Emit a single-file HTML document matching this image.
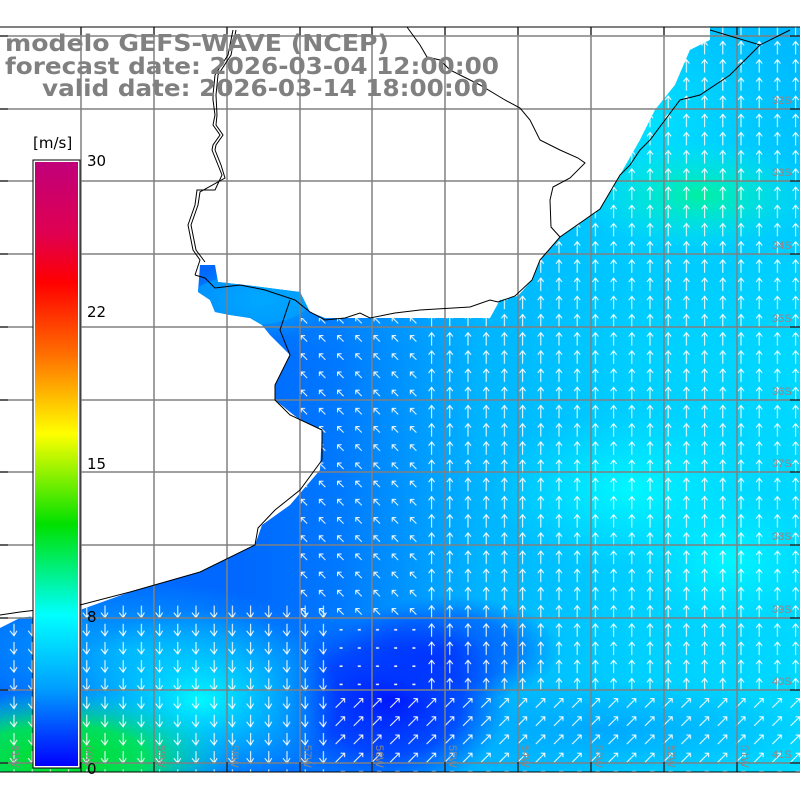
<!DOCTYPE html>
<html><head><meta charset="utf-8"><style>
html,body{margin:0;padding:0;background:#fff;}
svg{display:block;}
</style></head><body>
<svg width="800" height="800" xmlns="http://www.w3.org/2000/svg" font-family="Liberation Sans, DejaVu Sans, sans-serif">
<defs>
<clipPath id="oc"><polygon points="710,27 800,27 800,772 0,772 0,628 20,618 80,610 130,592 200,572 255,545 262,525 290,505 320,470 322,430 300,420 275,400 275,385 290,355 270,335 262,325 250,318 230,315 215,312 210,300 198,292 200,265 215,265 218,282 245,285 300,292 310,312 325,318 490,318 500,300 518,296 532,280 540,260 560,237 600,209 620,175 640,140 655,110 675,85 690,50 710,40"/></clipPath>
<linearGradient id="base" x1="0" y1="0" x2="1" y2="0"><stop offset="0.3" stop-color="#0068ff"/><stop offset="0.42" stop-color="#0078ff"/><stop offset="0.6" stop-color="#00b4ff"/><stop offset="0.8" stop-color="#00d0ff"/><stop offset="1" stop-color="#00d8ff"/></linearGradient>
<linearGradient id="topf" x1="0" y1="0" x2="0" y2="1"><stop offset="0" stop-color="#00b8ff"/><stop offset="1" stop-color="#00b8ff" stop-opacity="0"/></linearGradient>
<radialGradient id="deep" cx="0.5" cy="0.5" r="0.5"><stop offset="0" stop-color="#0018ff"/><stop offset="0.6" stop-color="#0038ff" stop-opacity="0.8"/><stop offset="1" stop-color="#0050ff" stop-opacity="0"/></radialGradient>
<radialGradient id="cy" cx="0.5" cy="0.5" r="0.5"><stop offset="0" stop-color="#00f8ff"/><stop offset="1" stop-color="#00e8ff" stop-opacity="0"/></radialGradient>
<radialGradient id="gr" cx="0.5" cy="0.5" r="0.5"><stop offset="0" stop-color="#00f0a0"/><stop offset="1" stop-color="#00f0e0" stop-opacity="0"/></radialGradient>
<radialGradient id="lb" cx="0.5" cy="0.5" r="0.5"><stop offset="0" stop-color="#00a8ff"/><stop offset="1" stop-color="#00a8ff" stop-opacity="0"/></radialGradient>
<radialGradient id="gg" cx="0.5" cy="0.5" r="0.5"><stop offset="0" stop-color="#00e020"/><stop offset="0.5" stop-color="#00e850" stop-opacity="0.9"/><stop offset="1" stop-color="#00f0c0" stop-opacity="0"/></radialGradient>
<linearGradient id="cb" x1="0" y1="0" x2="0" y2="1">
<stop offset="0" stop-color="#c0007a"/><stop offset="0.12" stop-color="#e00050"/><stop offset="0.2" stop-color="#ff0000"/><stop offset="0.32" stop-color="#ff7000"/><stop offset="0.45" stop-color="#ffff00"/><stop offset="0.6" stop-color="#00e000"/><stop offset="0.75" stop-color="#00ffff"/><stop offset="0.87" stop-color="#00a0ff"/><stop offset="1" stop-color="#0000ff"/></linearGradient>
<pattern id="up" x="4" y="2" width="18.2" height="18.2" patternUnits="userSpaceOnUse"><path d="M9 16V3M6 7L9 3L12 7" stroke="#fff" stroke-width="1" fill="none"/></pattern>
<pattern id="ur" x="4" y="2" width="18.2" height="18.2" patternUnits="userSpaceOnUse"><path d="M4 14L13 5M9 5H13V9" stroke="#fff" stroke-width="1" fill="none"/></pattern>
<pattern id="dn" x="4" y="2" width="18.2" height="18.2" patternUnits="userSpaceOnUse"><path d="M10 3V15M6 10L10 15L13 10" stroke="#fff" stroke-width="1" fill="none"/></pattern>
<pattern id="ul" x="4" y="2" width="18.2" height="18.2" patternUnits="userSpaceOnUse"><path d="M12 12L6 6M6 10V6H10" stroke="#fff" stroke-width="1" fill="none"/></pattern>
<pattern id="sm" x="4" y="2" width="18.2" height="18.2" patternUnits="userSpaceOnUse"><path d="M8 9L11 9" stroke="#fff" stroke-width="1.5"/></pattern>
</defs>
<g clip-path="url(#oc)">
<rect x="0" y="27" width="800" height="745" fill="url(#base)"/>
<rect x="250" y="27" width="550" height="330" fill="url(#topf)"/>
<ellipse cx="260" cy="300" rx="80" ry="40" fill="url(#lb)"/>
<ellipse cx="250" cy="300" rx="60" ry="25" fill="#00a8ff" opacity="0.6"/>
<ellipse cx="650" cy="120" rx="150" ry="160" fill="url(#cy)" opacity="0.6"/>
<ellipse cx="700" cy="195" rx="120" ry="55" fill="url(#gr)"/>
<ellipse cx="630" cy="490" rx="140" ry="80" fill="url(#cy)"/>
<ellipse cx="730" cy="560" rx="90" ry="70" fill="url(#cy)"/>
<ellipse cx="600" cy="730" rx="220" ry="50" fill="url(#lb)"/>
<ellipse cx="390" cy="700" rx="120" ry="90" fill="url(#deep)"/>
<ellipse cx="450" cy="650" rx="110" ry="55" fill="url(#deep)" opacity="0.6"/>
<ellipse cx="130" cy="650" rx="190" ry="70" fill="url(#lb)"/>
<ellipse cx="200" cy="700" rx="140" ry="90" fill="url(#cy)"/>
<ellipse cx="60" cy="760" rx="170" ry="70" fill="url(#gg)"/>
<rect x="425" y="27" width="375" height="663" fill="url(#up)"/>
<rect x="335" y="690" width="465" height="82" fill="url(#ur)"/>
<rect x="300" y="318" width="125" height="300" fill="url(#ul)"/>
<rect x="0" y="600" width="330" height="172" fill="url(#dn)"/>
<rect x="330" y="618" width="95" height="72" fill="url(#sm)"/>
</g>
<g stroke="#808080" stroke-width="1.5" fill="none">
<path d="M81 27V772M154 27V772M227 27V772M300 27V772M372 27V772M445 27V772M518 27V772M591 27V772M664 27V772M737 27V772"/>
<path d="M0 36H800M0 109H800M0 181H800M0 254H800M0 327H800M0 400H800M0 472H800M0 545H800M0 618H800M0 690H800M0 763H800"/>
</g>
<path d="M0 27H800M0 772H800" stroke="#000" stroke-width="1"/>
<g stroke="#000" fill="none" stroke-width="1">
<path d="M710 30L760 45L790 30M760 45L730 75L700 95L680 100L665 120L650 140L640 150L630 165L620 175L600 209L560 237L540 260L532 280L515 296L498 302L490 300L470 307L420 310L395 313L370 318L360 313L345 318L325 320L310 312L295 300L265 290L240 285L215 288L205 278L195 275M290 300L280 330L290 355L275 385L275 400L290 415L322 430L322 460L300 490L275 510L258 528L255 545L200 572L130 592L80 605L20 612L0 615"/>
<path d="M233 30L228 55L215 75L213 95L213 100L215 115L213 125L220 135L213 145L212 150L218 165L222 175L215 190L197 190L195 205L188 225L193 250L200 260L195 275M236 30L231 55L218 75L216 95L217 115L216 125L223 135L216 145L215 150L221 165L225 178L200 192L198 205L191 225L196 250L205 262"/>
<path d="M407 27L420 45L427 57L440 60L450 70L480 85L505 100L520 108L530 120L540 140L560 150L578 158L585 163L570 178L553 187L550 200L551 227L560 237"/>
</g>
<g stroke="#000" stroke-width="1">
<path d="M0 36H8M0 109H8M0 181H8M0 254H8M0 327H8M0 400H8M0 472H8M0 545H8M0 618H8M0 690H8M0 763H8M800 36H790M800 109H790M800 181H790M800 254H790M800 327H790M800 400H790M800 472H790M800 545H790M800 618H790M800 690H790M800 763H790"/>
<path d="M81 27V35M154 27V35M227 27V35M300 27V35M372 27V35M445 27V35M518 27V35M591 27V35M664 27V35M737 27V35M81 772V762M154 772V762M227 772V762M300 772V762M372 772V762M445 772V762M518 772V762M591 772V762M664 772V762M737 772V762"/>
</g>
<g fill="#a08080" font-size="11">
<text x="772" y="104">32S</text><text x="772" y="176">33S</text><text x="772" y="249">34S</text><text x="772" y="322">35S</text><text x="772" y="395">36S</text><text x="772" y="467">37S</text><text x="772" y="540">38S</text><text x="772" y="613">39S</text><text x="772" y="685">40S</text><text x="772" y="758">41S</text>
</g>
<g fill="#888" font-size="11">
<text transform="translate(12,745) rotate(90)">61W</text><text transform="translate(85,745) rotate(90)">60W</text><text transform="translate(158,745) rotate(90)">59W</text><text transform="translate(231,745) rotate(90)">58W</text><text transform="translate(304,745) rotate(90)">57W</text><text transform="translate(376,745) rotate(90)">56W</text><text transform="translate(449,745) rotate(90)">55W</text><text transform="translate(522,745) rotate(90)">54W</text><text transform="translate(595,745) rotate(90)">53W</text><text transform="translate(668,745) rotate(90)">52W</text><text transform="translate(741,745) rotate(90)">51W</text>
</g>
<rect x="33" y="160" width="47" height="608" fill="#fff" stroke="#000" stroke-width="1"/>
<rect x="35" y="162" width="43" height="604" fill="url(#cb)"/>
<g font-size="15" fill="#000" font-family="DejaVu Sans, sans-serif">
<text x="33" y="148">[m/s]</text>
<text x="87" y="166">30</text><text x="87" y="317">22</text><text x="87" y="469">15</text><text x="87" y="622">8</text><text x="87" y="774">0</text>
</g>
<g font-size="23" font-weight="bold" fill="#808080" font-family="DejaVu Sans, sans-serif">
<text x="5" y="51" textLength="384" lengthAdjust="spacingAndGlyphs">modelo GEFS-WAVE (NCEP)</text>
<text x="5" y="74" textLength="494" lengthAdjust="spacingAndGlyphs">forecast date: 2026-03-04 12:00:00</text>
<text x="42" y="96" textLength="446" lengthAdjust="spacingAndGlyphs">valid date: 2026-03-14 18:00:00</text>
</g>
</svg>
</body></html>
